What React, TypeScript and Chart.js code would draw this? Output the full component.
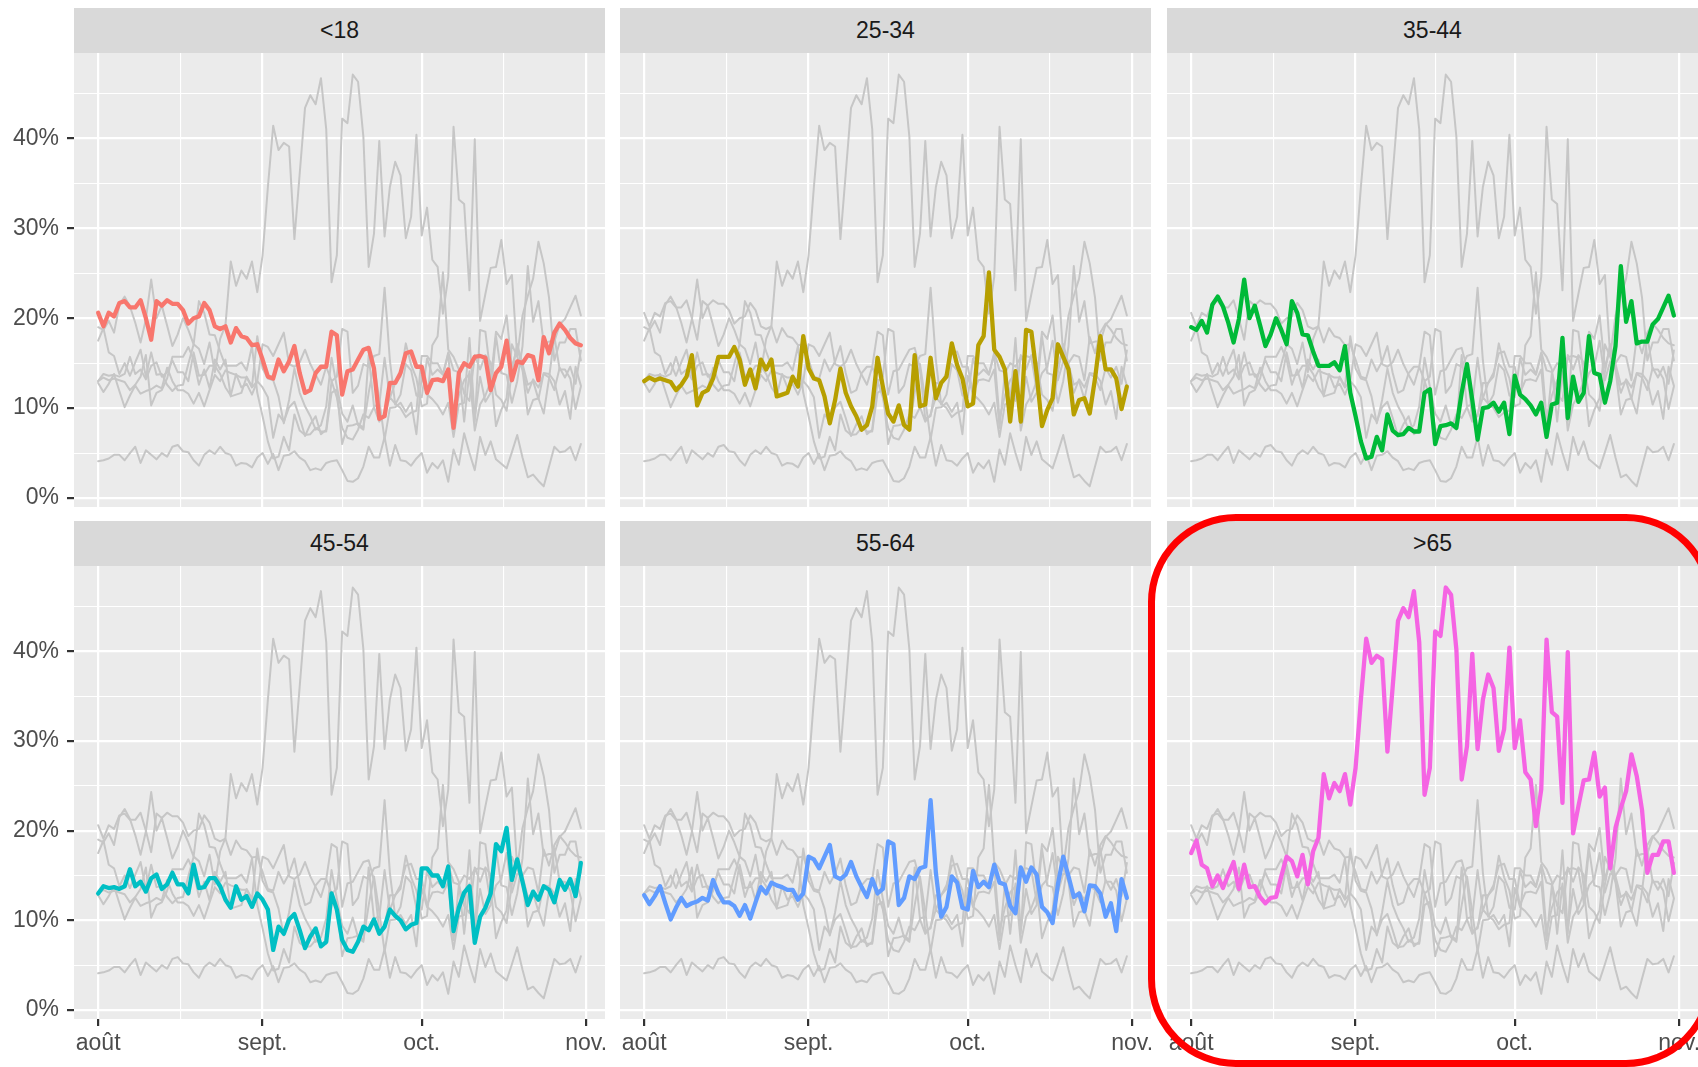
import React, { useEffect, useRef } from "react";
import { Chart, registerables } from "chart.js";
Chart.register(...registerables);

// ---- data (daily values, Aug 1 .. Oct 31, in %) ----
const groups = ["<18", "25-34", "35-44", "45-54", "55-64", ">65"];
const groupColors = ["#F8766D", "#B79F00", "#00BA38", "#00BFC4", "#619CFF", "#F564E3"];

const seriesLt18 = [20.6,19.1,20.6,20.2,21.7,21.9,21.2,21.2,22.0,20.0, 17.6,21.9,21.4,22.0,21.6,21.6,20.9,19.4,20.0,20.2, 21.7,20.9,19.1,18.8,19.1,17.3,18.9,18.0,17.8,17.0, 17.1,15.4,13.5,13.3,15.4,14.1,15.2,16.9,13.9,11.7, 12.0,13.9,14.6,14.6,18.5,18.1,11.5,14.1,14.3,15.4, 16.5,16.7,14.4,8.8,9.1,12.8,12.8,13.9,16.1,16.3, 14.6,14.6,11.7,13.1,13.2,13.0,14.3,7.8,13.9,15.0, 14.6,15.7,15.8,15.6,12.0,13.9,14.6,17.5,13.1,15.2, 15.0,15.9,15.7,13.1,17.9,16.1,18.4,19.4,18.7,17.8, 17.2,17.0];
const series25_34 = [13.0,13.4,13.1,13.3,13.1,12.9,12.0,12.6,13.5,15.9, 10.3,11.7,12.0,13.3,15.7,15.7,15.7,16.8,15.4,12.6, 14.3,12.2,15.4,14.3,15.4,11.3,11.5,11.7,13.5,12.4, 18.0,14.4,13.3,13.1,11.3,8.3,10.9,14.4,11.7,10.2, 9.1,7.6,8.1,10.2,15.6,12.4,9.4,8.5,10.3,8.1, 7.6,15.9,10.2,10.4,15.6,11.1,12.8,13.5,17.2,14.8, 13.3,10.2,10.5,17.0,18.0,25.1,16.5,15.7,14.3,8.5, 14.1,8.5,18.7,18.5,13.7,8.0,9.8,11.1,17.1,15.7, 14.3,9.3,10.9,11.1,9.4,13.3,18.0,14.3,14.3,13.3, 9.9,12.4];
const series35_44 = [19.0,18.7,19.7,18.4,21.5,22.4,21.3,19.5,17.3,19.9, 24.3,20.0,21.4,19.2,16.9,18.2,20.0,18.7,17.1,21.9, 20.6,18.2,18.1,16.3,14.7,14.7,14.7,15.1,14.2,16.9, 11.7,9.1,6.3,4.4,4.6,6.8,5.3,9.3,7.5,7.0, 7.1,7.8,7.4,7.4,11.7,12.1,6.0,8.0,8.1,8.3, 7.8,11.7,14.9,10.9,6.5,10.0,10.1,10.6,9.6,10.6, 7.1,13.6,11.5,11.0,10.3,9.3,10.6,6.8,10.4,10.6, 17.8,8.9,13.5,10.7,11.7,18.0,13.9,13.7,10.6,13.0, 16.9,25.8,19.6,21.9,17.2,17.4,17.4,19.3,19.9,21.2, 22.5,20.3];
const series45_54 = [13.0,13.8,13.6,13.7,13.5,13.8,15.7,13.8,14.3,13.2, 14.7,15.1,13.5,14.0,15.3,14.0,14.0,13.0,16.2,13.6, 13.7,14.7,14.7,13.8,12.3,11.4,13.8,12.3,12.7,11.5, 13.0,12.3,11.2,6.7,9.3,8.5,10.1,10.7,8.9,6.9, 8.2,9.1,7.1,7.6,13.0,11.2,7.8,6.7,6.5,7.6, 9.3,8.9,10.1,8.5,9.3,11.2,10.5,10.0,9.0,9.5, 9.7,15.8,15.8,15.0,15.0,13.8,16.0,8.8,11.4,13.1, 13.8,7.5,10.4,11.4,13.0,18.5,17.7,20.3,14.5,16.8, 14.3,11.7,13.2,12.3,13.8,13.4,12.0,14.5,13.4,14.6, 12.7,16.4];
const series55_64 = [12.8,11.8,12.7,13.8,11.9,10.1,11.4,12.5,11.6,11.9, 12.1,12.5,12.2,14.5,13.0,12.0,12.0,11.6,10.5,11.7, 10.2,12.0,13.7,13.0,14.2,13.9,13.7,13.4,13.4,12.3, 13.0,17.1,16.8,15.8,17.1,18.4,14.9,14.6,15.1,16.5, 14.9,13.7,12.6,14.6,13.0,13.5,18.8,18.5,11.7,12.5, 14.9,14.6,15.8,16.0,23.4,15.3,10.4,11.5,14.9,14.2, 11.4,11.2,15.5,13.7,14.3,13.7,16.2,14.2,14.0,11.6, 10.8,15.9,14.3,15.9,15.1,11.5,10.9,9.7,14.0,17.1, 14.9,12.6,13.0,11.0,13.9,13.8,13.0,10.4,11.9,8.8, 14.6,12.5];
const seriesGt65 = [17.5,18.9,16.2,15.8,13.8,15.0,13.6,15.1,16.5,13.5, 16.2,13.7,13.8,12.6,11.9,12.5,12.6,14.9,17.1,16.6, 14.9,17.3,14.0,17.7,19.2,26.3,23.6,25.3,24.4,26.3, 22.9,27.0,34.6,41.4,38.7,39.5,39.1,28.8,36.1,43.4, 44.8,43.8,46.7,41.0,24.0,27.0,42.2,41.7,47.1,46.3, 40.2,25.7,29.4,39.7,29.1,34.6,37.4,35.9,28.9,31.3, 40.4,29.2,32.3,26.5,25.7,20.5,24.6,41.3,33.2,32.7, 23.1,39.9,19.7,22.7,25.6,25.7,28.7,23.8,24.8,15.8, 20.3,22.5,24.4,28.5,26.1,22.3,15.3,17.3,17.3,18.8, 18.8,15.3];
// background-only group (shown in grey in every facet)
const seriesUnlabeled = [4.1,4.2,4.4,4.8,4.8,4.2,5.0,5.7,3.9,5.3, 4.8,4.3,5.0,4.6,5.7,5.9,5.2,5.1,4.2,3.6, 4.8,5.3,4.9,5.7,5.0,4.8,3.6,3.9,3.8,3.4, 4.5,5.0,3.8,4.9,3.1,4.7,4.8,5.2,4.5,4.1, 3.1,3.3,3.1,3.9,4.1,4.2,3.1,1.9,1.8,2.2, 3.5,5.7,4.5,4.5,6.8,3.6,5.9,4.2,4.1,3.6, 4.4,5.0,2.8,3.9,3.3,4.2,1.8,5.4,3.7,7.2, 5.0,3.1,6.8,4.8,6.3,4.3,3.8,3.3,5.1,7.0, 4.5,2.3,2.6,1.9,1.3,3.5,5.7,5.1,5.2,5.7, 4.2,6.0];

const groupSeries = [seriesLt18, series25_34, series35_44, series45_54, series55_64, seriesGt65];
const allSeries = [...groupSeries, seriesUnlabeled];

// x axis: day index from Aug 1
const monthTickDays = [0, 31, 61, 92];
const monthTickLabels = ["août", "sept.", "oct.", "nov."];
const minorTickDays = [15.5, 46, 76.5];
const yMajorTicks = [0, 10, 20, 30, 40];
const yMinorTicks = [5, 15, 25, 35, 45];

const X_MIN = -4.55;
const X_MAX = 95.55;
const Y_MIN = -1.0;
const Y_MAX = 49.5;

// ---- layout ----
const COL_LEFT = [74, 620, 1167];
const PANEL_W = 531;
const STRIP_TOP = [8, 521];
const STRIP_H = 45;
const PLOT_H = [454, 453];
const Y_AXIS_W = 74;
const X_AXIS_H = 48;
const FONT = "'Liberation Sans', Arial, sans-serif";

const bgPlugin = {
  id: "panelBg",
  beforeDraw(chart: any) {
    const { ctx, chartArea } = chart;
    ctx.save();
    ctx.fillStyle = "#EBEBEB";
    ctx.fillRect(chartArea.left, chartArea.top, chartArea.right - chartArea.left, chartArea.bottom - chartArea.top);
    ctx.restore();
  },
};

function Panel({ idx, row, col }: { idx: number; row: number; col: number }) {
  const ref = useRef<HTMLCanvasElement>(null);
  const showY = col === 0;
  const showX = row === 1;
  const left = COL_LEFT[col] - (showY ? Y_AXIS_W : 0);
  const top = STRIP_TOP[row] + STRIP_H;
  const width = PANEL_W + (showY ? Y_AXIS_W : 0);
  const height = PLOT_H[row] + (showX ? X_AXIS_H : 0);

  useEffect(() => {
    const canvas = ref.current!;
    const toPts = (arr: number[]) => arr.map((v, i) => ({ x: i, y: v }));
    const datasets: any[] = [
      {
        data: toPts(groupSeries[idx]),
        borderColor: groupColors[idx],
        borderWidth: 4.3,
        order: 0,
      },
      ...allSeries.map((s) => ({
        data: toPts(s),
        borderColor: "#C6C6C6",
        borderWidth: 2.0,
        order: 1,
      })),
    ];
    const xTicks = [...monthTickDays, ...minorTickDays].sort((a, b) => a - b);
    const yTicks = [...yMajorTicks, ...yMinorTicks].sort((a, b) => a - b);
    const chart = new Chart(canvas, {
      type: "line",
      data: { datasets },
      plugins: [bgPlugin],
      options: {
        animation: false,
        responsive: false,
        maintainAspectRatio: false,
        devicePixelRatio: 1,
        layout: { padding: 0 },
        elements: {
          point: { radius: 0 },
          line: { tension: 0, borderJoinStyle: "round", borderCapStyle: "round" },
        },
        plugins: { legend: { display: false }, tooltip: { enabled: false } },
        scales: {
          x: {
            type: "linear",
            min: X_MIN,
            max: X_MAX,
            border: { display: false },
            afterBuildTicks: (s: any) => {
              s.ticks = xTicks.map((v) => ({ value: v }));
            },
            afterFit: (s: any) => {
              s.height = showX ? X_AXIS_H : 0;
              s.paddingLeft = 0;
              s.paddingRight = 0;
            },
            grid: {
              color: "#FFFFFF",
              lineWidth: (c: any) => (monthTickDays.includes(c.tick.value) ? 2.2 : 1.1),
              drawTicks: showX,
              tickLength: 7,
              tickWidth: 2.2,
              tickColor: (c: any) => (monthTickDays.includes(c.tick.value) ? "#333333" : "rgba(0,0,0,0)"),
            },
            ticks: {
              display: showX,
              autoSkip: false,
              maxRotation: 0,
              minRotation: 0,
              padding: 4,
              color: "#4D4D4D",
              font: { family: FONT, size: 23 },
              callback: (v: any) => {
                const k = monthTickDays.indexOf(Number(v));
                return k >= 0 ? monthTickLabels[k] : "";
              },
            },
          },
          y: {
            type: "linear",
            min: Y_MIN,
            max: Y_MAX,
            border: { display: false },
            afterBuildTicks: (s: any) => {
              s.ticks = yTicks.map((v) => ({ value: v }));
            },
            afterFit: (s: any) => {
              s.width = showY ? Y_AXIS_W : 0;
              s.paddingTop = 0;
              s.paddingBottom = 0;
            },
            grid: {
              color: "#FFFFFF",
              lineWidth: (c: any) => (yMajorTicks.includes(c.tick.value) ? 2.2 : 1.1),
              drawTicks: showY,
              tickLength: 7,
              tickWidth: 2.2,
              tickColor: (c: any) => (yMajorTicks.includes(c.tick.value) ? "#333333" : "rgba(0,0,0,0)"),
            },
            ticks: {
              display: showY,
              autoSkip: false,
              padding: 8,
              color: "#4D4D4D",
              font: { family: FONT, size: 23 },
              callback: (v: any) => (yMajorTicks.includes(Number(v)) ? `${v}%` : ""),
            },
          },
        },
      } as any,
    });
    return () => chart.destroy();
  }, []);

  return (
    <>
      <div
        style={{
          position: "absolute",
          left: COL_LEFT[col],
          top: STRIP_TOP[row],
          width: PANEL_W,
          height: STRIP_H,
          background: "#D9D9D9",
          color: "#1A1A1A",
          fontFamily: FONT,
          fontSize: 23,
          display: "flex",
          alignItems: "center",
          justifyContent: "center",
        }}
      >
        {groups[idx]}
      </div>
      <canvas
        ref={ref}
        width={width}
        height={height}
        style={{ position: "absolute", left, top, width, height }}
      />
    </>
  );
}

export default function App() {
  return (
    <div
      style={{
        position: "absolute",
        left: 0,
        top: 0,
        width: 1698,
        height: 1067,
        overflow: "hidden",
        background: "#FFFFFF",
      }}
    >
      {groups.map((g, i) => (
        <Panel key={g} idx={i} row={Math.floor(i / 3)} col={i % 3} />
      ))}
      <div
        style={{
          position: "absolute",
          left: 1148,
          top: 514,
          width: 566,
          height: 553,
          border: "7px solid #FF0000",
          borderRadius: 88,
          boxSizing: "border-box",
          pointerEvents: "none",
        }}
      />
    </div>
  );
}
